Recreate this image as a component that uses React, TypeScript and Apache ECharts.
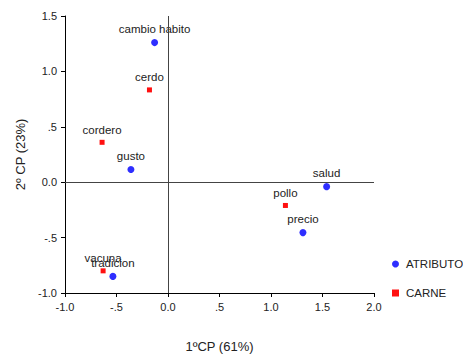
import React, { useEffect, useRef } from "react";
import * as echarts from "echarts";

const atributoNames = ["cambio habito", "gusto", "salud", "precio", "tradicion"];
const atributoX = [-0.13, -0.36, 1.54, 1.31, -0.535];
const atributoY = [1.26, 0.115, -0.04, -0.455, -0.85];

const carneNames = ["cerdo", "cordero", "pollo", "vacuna"];
const carneX = [-0.18, -0.64, 1.14, -0.63];
const carneY = [0.833, 0.36, -0.21, -0.8];

const xTitle = "1ºCP (61%)";
const yTitle = "2º CP (23%)";

const fmt = (v: number) => {
  const s = v.toFixed(1);
  if (s === "0.5") return ".5";
  if (s === "-0.5") return "-.5";
  return s;
};

const FONT = "'Liberation Sans', Arial, sans-serif";

export default function App() {
  const ref = useRef<HTMLDivElement>(null);
  useEffect(() => {
    if (!ref.current) return;
    const chart = echarts.init(ref.current, undefined, { renderer: "svg" });
    const mkData = (names: string[], xs: number[], ys: number[]) =>
      names.map((n, i) => ({ name: n, value: [xs[i], ys[i]] }));
    const labelCfg = {
      show: true,
      position: "top" as const,
      distance: 4,
      formatter: (p: any) => p.name,
      color: "#222",
      fontSize: 11.5,
      fontFamily: FONT,
    };
    const axisCommon = {
      axisLine: { onZero: false, lineStyle: { color: "#000", width: 1 } },
      axisTick: { show: true, length: 4, lineStyle: { color: "#000" } },
      splitLine: { show: false },
      axisLabel: {
        color: "#222",
        fontSize: 11,
        fontFamily: FONT,
        formatter: (v: number) => fmt(v),
      },
      nameLocation: "middle" as const,
      nameTextStyle: { color: "#222", fontSize: 13, fontFamily: FONT },
    };
    chart.setOption({
      animation: false,
      backgroundColor: "#fff",
      textStyle: { fontFamily: FONT },
      grid: { left: 65, right: 89, top: 16, bottom: 59, containLabel: false },
      xAxis: {
        type: "value",
        min: -1,
        max: 2,
        interval: 0.5,
        name: xTitle,
        nameGap: 47,
        ...axisCommon,
      },
      yAxis: {
        type: "value",
        min: -1,
        max: 1.5,
        interval: 0.5,
        name: yTitle,
        nameGap: 38,
        ...axisCommon,
      },
      legend: {
        orient: "vertical",
        left: 387,
        top: 253,
        itemWidth: 7,
        itemHeight: 7,
        itemGap: 17,
        textStyle: { color: "#222", fontSize: 11.5, fontFamily: FONT, padding: [0, 0, 0, 2] },
        data: ["ATRIBUTO", "CARNE"],
      },
      series: [
        {
          name: "ATRIBUTO",
          type: "scatter",
          symbol: "circle",
          symbolSize: 7,
          itemStyle: { color: "#2e2eff", opacity: 1 },
          label: labelCfg,
          data: mkData(atributoNames, atributoX, atributoY),
          markLine: {
            silent: true,
            symbol: "none",
            label: { show: false },
            lineStyle: { color: "#444", width: 1, type: "solid" },
            data: [{ xAxis: 0 }, { yAxis: 0 }],
          },
          z: 3,
        },
        {
          name: "CARNE",
          type: "scatter",
          symbol: "rect",
          symbolSize: 5,
          itemStyle: { color: "#ff1010", opacity: 1 },
          label: labelCfg,
          data: mkData(carneNames, carneX, carneY),
          z: 3,
        },
      ],
    });
    return () => chart.dispose();
  }, []);
  return <div ref={ref} style={{ width: 463, height: 358, position: "absolute", left: 0, top: 0 }} />;
}
